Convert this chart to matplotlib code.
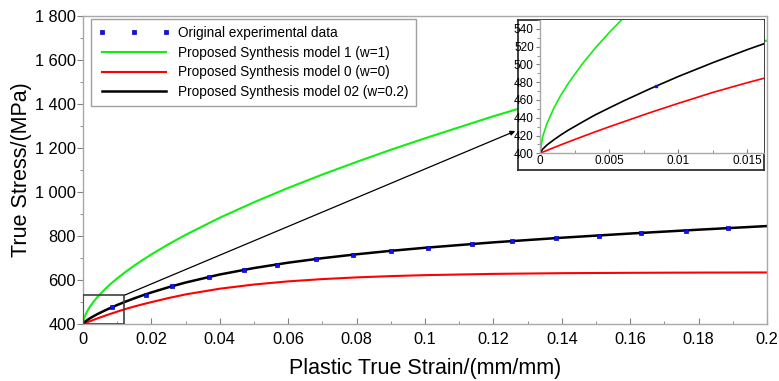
import numpy as np
import matplotlib
matplotlib.use("Agg")
import matplotlib.pyplot as plt
from matplotlib.ticker import FuncFormatter, MultipleLocator

plt.rcParams['font.family'] = ['Liberation Sans', 'DejaVu Sans']

# strain grid the curves were read at
strain = [0, 0.0002, 0.0005, 0.001, 0.0015, 0.002, 0.003, 0.004, 0.005, 0.006,
          0.008, 0.010, 0.0125, 0.015, 0.0175, 0.02, 0.025, 0.03, 0.04, 0.05,
          0.06, 0.07, 0.08, 0.09, 0.10, 0.12, 0.14, 0.16, 0.18, 0.20]
model_w1 = [400, 419.1, 433.3, 450.8, 465.2, 477.6, 499.4, 518.5, 535.8, 551.7,
            581.0, 607.2, 637.5, 665.4, 691.5, 716.4, 762.6, 805.2, 883.0, 953.5,
            1018.5, 1079.4, 1136.8, 1191.9, 1244.2, 1344.3, 1437.2, 1524.9, 1608.5, 1688.6]
model_w0 = [400, 401.3, 403.2, 406.4, 409.5, 412.5, 418.4, 424.2, 429.8, 435.2,
            446.0, 456.2, 468.5, 479.5, 489.8, 499.4, 518.0, 534.5, 560.5, 579.5,
            593.8, 604.1, 611.9, 617.7, 622.1, 627.8, 631.0, 632.7, 633.7, 634.3]
model_w02 = [400, 404.8, 409.3, 415.2, 420.6, 425.6, 434.6, 443.3, 451.0, 458.6,
             472.9, 486.4, 502.0, 516.7, 530.4, 543.4, 567.1, 588.5, 625.1, 654.3,
             678.7, 699.2, 716.9, 732.6, 746.5, 771.1, 792.2, 811.2, 828.7, 845.2]

exp_strain = [0.0084, 0.0183, 0.0261, 0.0369, 0.0471, 0.0568, 0.0681, 0.0789, 0.0901,
              0.1008, 0.1137, 0.1255, 0.1383, 0.1510, 0.1631, 0.1762, 0.1885]
exp_stress = [476, 533, 573, 613, 645, 670, 694, 713, 731,
              746, 763, 777, 790, 802, 814, 825, 835]

labels = ['Original experimental data', 'Proposed Synthesis model 1 (w=1)',
          'Proposed Synthesis model 0 (w=0)', 'Proposed Synthesis model 02 (w=0.2)']

GREEN, RED, BLUE = '#12ee12', '#ff0000', '#1010ff'
W, H = 779, 381


def style_axes(ax, lsize):
    for s in ax.spines.values():
        s.set_color('#a8a8a8')
        s.set_linewidth(1.0)
    ax.tick_params(axis='y', direction='out', colors='#808080', labelcolor='black',
                   length=4, labelsize=lsize, which='major', pad=1)
    ax.tick_params(axis='y', direction='out', colors='#808080', length=2, which='minor')
    ax.tick_params(axis='x', direction='in', colors='#808080', labelcolor='black',
                   length=4, labelsize=lsize, which='major', pad=6)
    ax.tick_params(axis='x', direction='in', colors='#808080', length=2, which='minor')


fig = plt.figure(figsize=(W / 100, H / 100), dpi=100)
ax = fig.add_axes([83 / W, 1 - 324 / H, 684 / W, 308 / H])

ax.plot(exp_strain, exp_stress, ls='none', marker='s', ms=3.2, color=BLUE,
        mec='#0000aa', mew=0.5, label=labels[0], zorder=4)
ax.plot(strain, model_w1, color=GREEN, lw=1.5, label=labels[1])
ax.plot(strain, model_w0, color=RED, lw=1.5, label=labels[2])
ax.plot(strain, model_w02, color='black', lw=1.8, label=labels[3])

ax.set_xlim(0, 0.2)
ax.set_ylim(400, 1800)
ax.xaxis.set_major_locator(MultipleLocator(0.02))
ax.xaxis.set_minor_locator(MultipleLocator(0.01))
ax.yaxis.set_major_locator(MultipleLocator(200))
ax.yaxis.set_minor_locator(MultipleLocator(100))
ax.xaxis.set_major_formatter(FuncFormatter(lambda v, p: f"{v:g}"))
ax.yaxis.set_major_formatter(FuncFormatter(lambda v, p: f"{int(v):,}".replace(",", " ")))
style_axes(ax, 11.8)
ax.set_xlabel('Plastic True Strain/(mm/mm)', fontsize=15.5, labelpad=8)
ax.set_ylabel('True Stress/(MPa)', fontsize=15.5, labelpad=2)

leg = ax.legend(loc='upper left', bbox_to_anchor=(0.012, 0.99), numpoints=3,
                handlelength=5.3, fontsize=9.8, fancybox=False, framealpha=1,
                edgecolor='#a0a0a0', borderaxespad=0, labelspacing=0.42,
                handletextpad=0.6, borderpad=0.5)
leg.get_frame().set_linewidth(1.0)

# zoom box and pointer
ax.add_patch(plt.Rectangle((0, 400), 0.012, 130, fill=False, ec='#404040', lw=1.2, zorder=5))
ax.annotate('', xy=(0.1264, 1277), xytext=(0.012, 530),
            arrowprops=dict(arrowstyle='-|>', color='black', lw=0.9,
                            mutation_scale=7, shrinkA=0, shrinkB=0))

# inset frame
frame = fig.add_axes([518 / W, 1 - 170 / H, 246 / W, 150 / H])
frame.set_xticks([])
frame.set_yticks([])
for s in frame.spines.values():
    s.set_color('#303030')
    s.set_linewidth(1.3)

ins = fig.add_axes([540 / W, 1 - 153.3 / H, 224 / W, 133.3 / H])
ins.plot(exp_strain, exp_stress, ls='none', marker='s', ms=1.5, color=BLUE, zorder=4)
ins.plot(strain, model_w1, color=GREEN, lw=1.2)
ins.plot(strain, model_w0, color=RED, lw=1.2)
ins.plot(strain, model_w02, color='black', lw=1.2)
ins.set_xlim(0, 0.0162)
ins.set_ylim(400, 550)
ins.xaxis.set_major_locator(MultipleLocator(0.005))
ins.xaxis.set_minor_locator(MultipleLocator(0.0025))
ins.yaxis.set_major_locator(MultipleLocator(20))
ins.yaxis.set_minor_locator(MultipleLocator(10))
ins.xaxis.set_major_formatter(FuncFormatter(lambda v, p: f"{v:g}"))
style_axes(ins, 8.5)
ins.tick_params(axis='both', which='major', pad=1.5, length=3)
ins.spines['top'].set_visible(False)
ins.spines['right'].set_visible(False)

fig.savefig('out.png', dpi=100)
